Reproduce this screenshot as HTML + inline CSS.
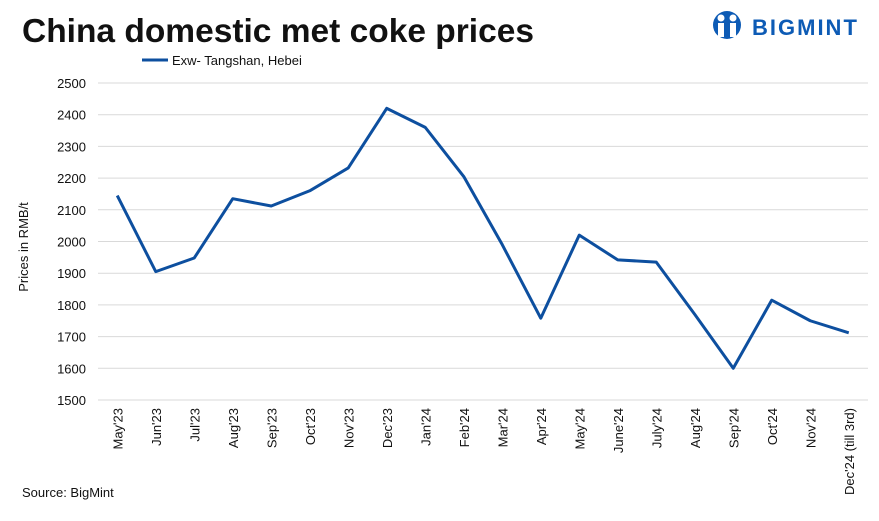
<!DOCTYPE html>
<html><head><meta charset="utf-8"><style>
body{margin:0;background:#fff;font-family:"Liberation Sans",sans-serif;}
</style></head><body>
<svg width="879" height="516" xmlns="http://www.w3.org/2000/svg" id="chart">
<text x="22" y="42" font-size="33.5" font-weight="bold" fill="#111">China domestic met coke prices</text>
<g>
<circle cx="727" cy="25" r="14" fill="#0d5bb5"/>
<circle cx="721" cy="18" r="3.5" fill="#fff"/><circle cx="733" cy="18" r="3.5" fill="#fff"/>
<rect x="718" y="23" width="6" height="14" fill="#fff"/><rect x="730" y="23" width="6" height="14" fill="#fff"/>
<text x="752" y="35" font-size="22" font-weight="bold" fill="#0d5bb5" letter-spacing="2">BIGMINT</text>
</g>
<g>
<line x1="142" y1="60" x2="168" y2="60" stroke="#0d4f9f" stroke-width="3"/>
<text x="172" y="65" font-size="13" fill="#111">Exw- Tangshan, Hebei</text>
</g>
<text transform="translate(28,247) rotate(-90)" text-anchor="middle" font-size="13" fill="#111">Prices in RMB/t</text>
<g id="grid"></g><g id="xl"></g>
<path id="line" fill="none" stroke="#0d4f9f" stroke-width="3" stroke-linejoin="round"/>
<text x="22" y="497" font-size="13" fill="#111">Source: BigMint</text>
</svg>
<script>
const categories=["May'23","Jun'23","Jul'23","Aug'23","Sep'23","Oct'23","Nov'23","Dec'23","Jan'24","Feb'24","Mar'24","Apr'24","May'24","June'24","July'24","Aug'24","Sep'24","Oct'24","Nov'24","Dec'24 (till 3rd)"];
const prices=[2145,1905,1948,2135,2112,2160,2232,2420,2360,2205,1990,1758,2020,1942,1935,1770,1600,1815,1750,1712];
const yTicks=[1500,1600,1700,1800,1900,2000,2100,2200,2300,2400,2500];
const NS="http://www.w3.org/2000/svg";
const x0=98,x1=868,yMin=1500,yMax=2500,yTop=83,yBot=400;
const step=(x1-x0)/categories.length;
const xs=i=>x0+step*(i+0.5);
const ys=v=>yBot-(v-yMin)/(yMax-yMin)*(yBot-yTop);
const g=document.getElementById('grid'),xl=document.getElementById('xl');
yTicks.forEach(t=>{
 const l=document.createElementNS(NS,'line');
 l.setAttribute('x1',x0);l.setAttribute('x2',x1);l.setAttribute('y1',ys(t));l.setAttribute('y2',ys(t));
 l.setAttribute('stroke','#d9d9d9');l.setAttribute('stroke-width','1');
 
 
 g.appendChild(l);
 const tx=document.createElementNS(NS,'text');
 tx.setAttribute('x',86);tx.setAttribute('y',ys(t)+5);tx.setAttribute('text-anchor','end');tx.setAttribute('font-size','13');tx.setAttribute('fill','#111');
 tx.textContent=t;
 
 
 g.appendChild(tx);
});
categories.forEach((c,i)=>{
 const tx=document.createElementNS(NS,'text');
 const x=xs(i)+5,y=408;
 tx.setAttribute('transform','translate('+x+','+y+') rotate(-90)');
 tx.setAttribute('text-anchor','end');tx.setAttribute('font-size','13');tx.setAttribute('fill','#111');
 tx.textContent=c;
 
 
 xl.appendChild(tx);
});
document.getElementById('line').setAttribute('d',prices.map((v,i)=>(i?'L':'M')+xs(i)+','+ys(v)).join(' '));
</script>
</body></html>
